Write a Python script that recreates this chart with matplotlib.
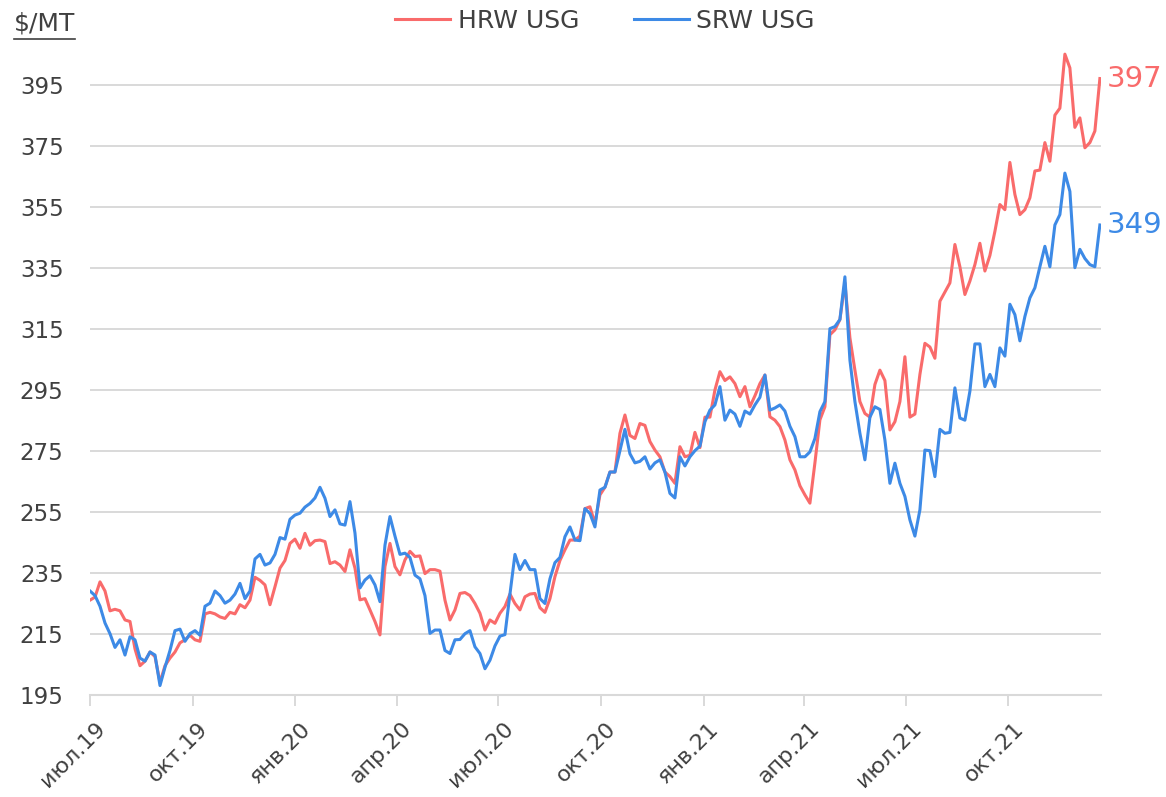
import numpy as np
import pandas as pd
import matplotlib
matplotlib.use("Agg")
import matplotlib.pyplot as plt
import matplotlib.transforms as mtransforms
from matplotlib.lines import Line2D

# Daily wheat export quotes, every 4.5 days
START = "2019-07-01"
END = "2021-12-22"

hrw_usg = [
    226, 227, 232, 229, 222.5, 223, 222.5, 219.5, 219, 210,
    204.5, 206, 209, 207.5, 199, 204.5, 207, 209, 212, 213,
    214.5, 213, 212.5, 221.5, 222, 221.5, 220.5, 220, 222, 221.5,
    224.5, 223.5, 226, 233.5, 232.5, 231, 224.5, 230.4, 236.5, 239,
    244.6, 246, 243, 247.9, 244, 245.5, 245.7, 245.2, 238, 238.6,
    237.5, 235.4, 242.5, 236.5, 226.1, 226.5, 222.8, 219, 214.6, 237,
    244.6, 237, 234.3, 239.2, 242, 240.3, 240.5, 234.7, 236, 236,
    235.5, 226, 219.5, 222.8, 228.2, 228.5, 227.5, 224.9, 221.7, 216.2,
    219.5, 218.4, 221.7, 223.9, 228, 224.9, 222.8, 227.1, 228, 228.2,
    223.5, 222, 226.5, 233.7, 239, 242.5, 245.7, 245.7, 247, 256,
    256.6, 251.1, 260.5, 263, 268, 268, 280.7, 286.7, 280, 279,
    283.9, 283.3, 278, 275.2, 273, 268, 266.5, 264.3, 276.3, 273,
    273.5, 281, 276, 286, 286, 294.9, 300.9, 298, 299.2, 297,
    292.7, 296, 289.4, 293, 297, 299.8, 286.1, 285, 282.9, 278.5,
    272, 268.7, 263.5, 260.5, 257.8, 271, 285.1, 289.4, 313, 314.6,
    318, 330, 312, 301.4, 291.1, 287.2, 286, 296.7, 301.4, 298,
    281.8, 284.5, 291.1, 305.8, 286, 287, 300, 310.2, 309, 305.3,
    324, 327, 330, 342.6, 335.3, 326.2, 330.6, 336, 343, 333.9,
    339, 346.9, 355.7, 354, 369.5, 359, 352.4, 354, 357.9, 366.7,
    367, 376, 369.9, 385, 387.3, 405, 400.5, 381, 384.1, 374.3,
    376, 379.8, 397,
]

srw_usg = [
    229, 227.5, 224, 218.5, 215, 210.5, 213, 208, 214, 213,
    207, 206, 209, 208, 198, 204, 209.5, 216, 216.5, 212.5,
    215, 216, 214.5, 224, 225, 229, 227.5, 225, 226, 228,
    231.5, 226.5, 229, 239.5, 241, 237.5, 238.2, 241, 246.5, 246,
    252.5, 253.9, 254.5, 256.5, 257.7, 259.5, 263, 259.4, 253.4, 255.6,
    251, 250.6, 258.3, 248, 230, 232.6, 234, 231, 225.5, 244,
    253.4, 247, 241, 241.4, 240, 234.2, 233, 227.5, 215.1, 216.2,
    216.2, 209.5, 208.5, 213, 213.1, 215, 216, 210.7, 208.5, 203.5,
    206.3, 211, 214.2, 214.7, 228, 241, 236, 239, 236, 236,
    226.5, 224.9, 233, 238.3, 240, 246.8, 250, 245.7, 245.5, 256,
    254.4, 250, 262.1, 263, 268, 268, 275, 282, 274, 271,
    271.5, 273, 269, 271, 272, 268, 261, 259.5, 273, 270,
    273, 275, 276.5, 284.5, 288.3, 290, 296, 285, 288.3, 287,
    283, 288, 287, 290, 292.5, 299.8, 288.3, 289, 290, 288,
    283, 279.6, 273, 273, 274.6, 279, 287.8, 291.1, 315, 315.7,
    318, 332, 304.7, 291.1, 280.7, 272, 286, 289.4, 288.5, 278.5,
    264.3, 270.9, 264.3, 260, 252.3, 247, 255.6, 275.2, 275, 266.5,
    282, 280.7, 281, 295.6, 285.7, 285, 294.5, 310, 310, 296,
    300, 296, 308.7, 306, 323, 319.6, 311, 319, 325.1, 328.4,
    335.3, 342, 335.3, 349, 352.4, 366, 360, 335, 341, 338,
    336, 335.3, 349,
]

tick_dates = ["2019-07-01", "2019-10-01", "2020-01-01", "2020-04-01", "2020-07-01",
              "2020-10-01", "2021-01-01", "2021-04-01", "2021-07-01", "2021-10-01"]
tick_labels = ["июл.19", "окт.19", "янв.20", "апр.20", "июл.20",
               "окт.20", "янв.21", "апр.21", "июл.21", "окт.21"]
y_ticks = list(range(195, 396, 20))

RED = "#F96B6B"
BLUE = "#3D8AE6"
GRID = "#D9D9D9"
TEXT = "#404040"

plt.rcParams["font.family"] = ["DejaVu Sans"]

W, H = 1166, 797
fig = plt.figure(figsize=(W / 100, H / 100), dpi=100)
ax = fig.add_axes([90 / W, 1 - 694.7 / H, (1101 - 90) / W, (694.7 - 38.9) / H])

dates_h = pd.date_range(START, END, periods=len(hrw_usg))
dates_s = pd.date_range(START, END, periods=len(srw_usg))

ax.plot(dates_h, hrw_usg, color=RED, lw=2.2, label="HRW USG", solid_joinstyle="round")
ax.plot(dates_s, srw_usg, color=BLUE, lw=2.2, label="SRW USG", solid_joinstyle="round")

ax.set_xlim(pd.Timestamp("2019-07-01"), pd.Timestamp("2021-12-23"))
ax.set_ylim(195, 410)

# grid and axes
ax.set_yticks(y_ticks)
ax.yaxis.grid(True, color=GRID, lw=1.4)
ax.set_axisbelow(True)
for side in ["left", "right", "top"]:
    ax.spines[side].set_visible(False)
ax.spines["bottom"].set_color(GRID)
ax.spines["bottom"].set_linewidth(1.5)

ax.tick_params(axis="y", length=0, pad=19, labelsize=16.5, labelcolor=TEXT)
ax.tick_params(axis="x", length=8, width=1.4, color=GRID, pad=9, labelsize=16, labelcolor=TEXT)

ax.set_xticks(pd.to_datetime(tick_dates))
ax.set_xticklabels(tick_labels, rotation=45, ha="right", va="top", rotation_mode="anchor")
offset = mtransforms.ScaledTranslation(0.05, 0, fig.dpi_scale_trans)
for lbl in ax.get_xticklabels():
    lbl.set_transform(lbl.get_transform() + offset)

# last values at the right end
ax.annotate(f"{hrw_usg[-1]:.0f}", xy=(dates_h[-1], hrw_usg[-1]), xytext=(5, 0),
            textcoords="offset points", va="center", ha="left", fontsize=21, color=RED)
ax.annotate(f"{srw_usg[-1]:.0f}", xy=(dates_s[-1], srw_usg[-1]), xytext=(5, 0),
            textcoords="offset points", va="center", ha="left", fontsize=21, color=BLUE)

fig.legend(loc="center", bbox_to_anchor=(605 / W, 1 - 21 / H), ncol=2, frameon=False,
           fontsize=18, handlelength=2.2, handletextpad=0.3, columnspacing=2.2,
           labelcolor=TEXT, borderpad=0)

# units label, underlined
unit = fig.text(14 / W, 1 - 24 / H, r"\$/MT", fontsize=18, color=TEXT, va="center", ha="left")
fig.canvas.draw()
bb = unit.get_window_extent()
fig.add_artist(Line2D([bb.x0 / W, bb.x1 / W], [(bb.y0 - 3) / H] * 2, color=TEXT, lw=1.2))

fig.savefig("out.png", dpi=100)
